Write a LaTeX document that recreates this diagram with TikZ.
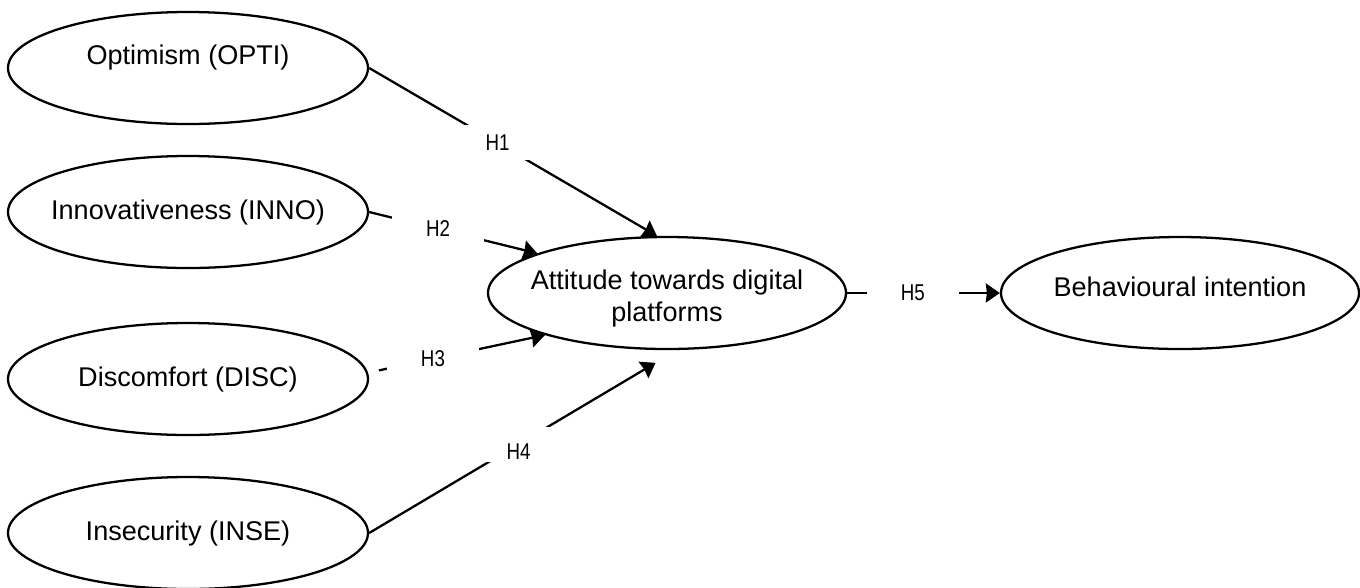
\documentclass[tikz,border=0pt]{standalone}
\usepackage{fontspec}
\setmainfont{Liberation Sans}
\newfontfamily\hypfont[FakeStretch=0.82]{Liberation Sans}
\usetikzlibrary{shapes.geometric, positioning, arrows.meta}

\begin{document}
\begin{tikzpicture}[]
        \tikzset{
            >={Stealth[length=0.28cm, width=0.38cm, inset=0.02cm]}, % filled heads
            ->,  % every connector is directed
            every path/.style={line width=1.3pt},
            node distance=3cm, % centre to centre
            construct/.style={ellipse, draw, minimum width=7.2cm, minimum height=2.24cm, inner xsep=-0.6cm, inner ysep=0pt, font=\fontsize{15.4}{18.2}\selectfont}, % latent variables
            hyp/.style={fill=white, minimum width=1.84cm, minimum height=0.7cm, inner sep=0pt, font=\hypfont\fontsize{13}{15}\selectfont}, % hypothesis labels, they cut the line
            }

        \useasboundingbox (0,0) rectangle (27.2,-11.74);

        % nodes
        \node[construct, text height=0.4cm, text depth=0.54cm] (opti_construct) at (3.76,-1.36) {Optimism (OPTI)};
        \node[construct, below of=opti_construct, yshift=0.12cm] (inno_construct) {Innovativeness (INNO)};
        \node[construct, below of=inno_construct, yshift=-0.34cm] (disc_construct) {Discomfort (DISC)};
        \node[construct, below of=disc_construct, yshift=-0.08cm] (inse_construct) {Insecurity (INSE)};
        \node[construct, right of=inno_construct, xshift=6.58cm, yshift=-1.62cm, minimum width=7.16cm, align=center] (att_construct) {\rule{0pt}{0.62cm}Attitude towards digital\\platforms};
        \node[construct, right of=att_construct, xshift=7.26cm, minimum width=7.16cm, text height=0.4cm, text depth=0.28cm] (beh_construct) {Behavioural intention};

        % paths into attitude
        \draw (opti_construct.east) -- node[hyp, pos=0.446] {H1} (att_construct.100);
        \draw (inno_construct.east) -- node[hyp, pos=0.41] {H2} (att_construct.163);
        \draw[shorten <=0.22cm] (disc_construct.2) -- node[hyp, pos=0.367] {H3} (att_construct.199);
        \draw[shorten >=0.5cm] (inse_construct.east) -- node[hyp, pos=0.485, text height=0.6cm] {H4} (att_construct.280);

        % attitude to intention
        \draw (att_construct.east) -- node[hyp, pos=0.43] {H5} (beh_construct.west);
    \end{tikzpicture}
\end{document}
